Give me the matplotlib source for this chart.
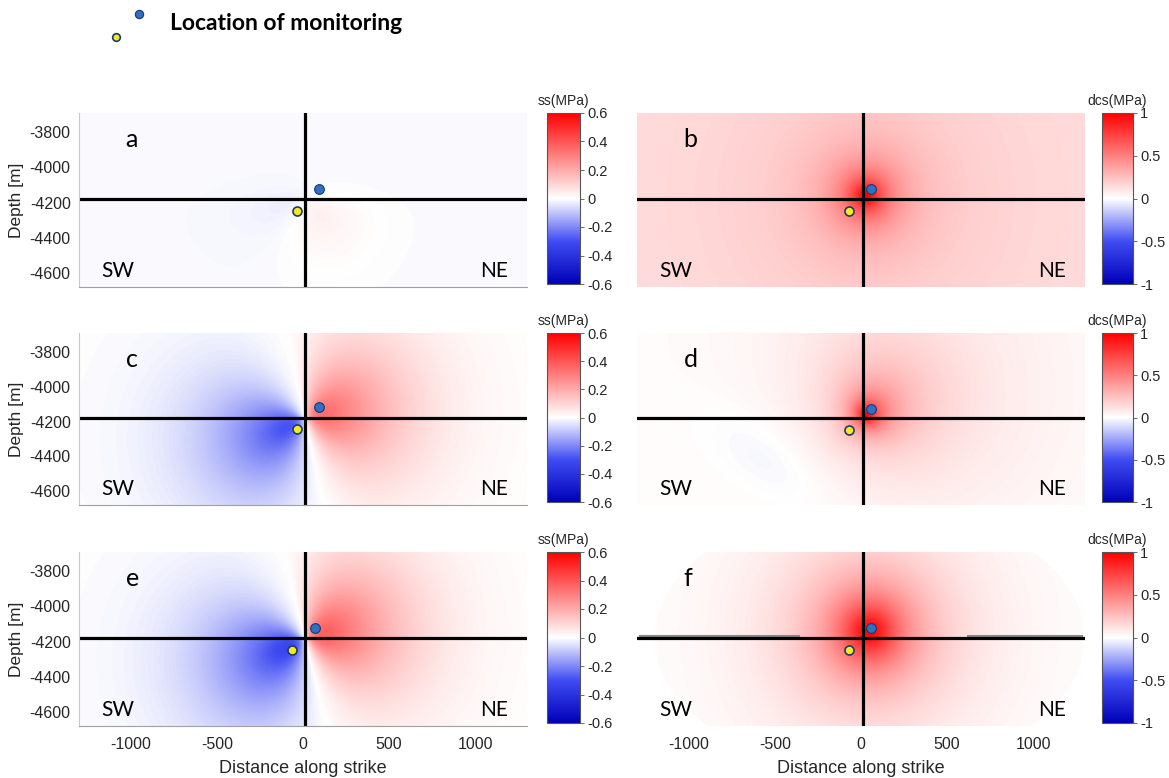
import matplotlib
matplotlib.use("Agg")
import matplotlib.pyplot as plt
import numpy as np
from matplotlib.colors import LinearSegmentedColormap

plt.rcParams['font.family'] = ['Liberation Sans', 'DejaVu Sans']

# ---- data ----
panel_letters = ["a", "b", "c", "d", "e", "f"]
cbar_labels = ["ss(MPa)", "dcs(MPa)"]
cbar_limits = [0.6, 1.0]
cbar_ticks_left = [-0.6, -0.4, -0.2, 0, 0.2, 0.4, 0.6]
cbar_ticks_right = [-1, -0.5, 0, 0.5, 1]
x_ticks = [-1000, -500, 0, 500, 1000]
y_ticks = [-4600, -4400, -4200, -4000, -3800]
x_range = [-1300, 1300]
y_range = [-4680, -3690]
fault_x = 10
fault_y = -4180

# monitoring points (x, depth) per panel
blue_x = [95, 60, 95, 60, 70, 60]
blue_y = [-4125, -4125, -4115, -4130, -4120, -4120]
yellow_x = [-35, -70, -35, -70, -65, -70]
yellow_y = [-4250, -4250, -4245, -4250, -4250, -4250]

peak_b, bg_b = 0.90, 0.12
peak_f = 1.0
dipole_amp = [0.07, 0.40, 0.44]      # panels a, c, e
dipole_angle = [-35, 12, 14]         # degrees
d_peak, d_lobe, d_neg = 0.75, 0.30, -0.05
bg_a = -0.008

cmap = LinearSegmentedColormap.from_list(
    "bwr_m", [(0.0, 0.0, 0.72), (0.25, 0.3, 0.95), (1, 1, 1),
              (1, 0.5, 0.5), (1, 0, 0)])
cmap.set_bad("white")

xg = np.linspace(x_range[0], x_range[1], 400)
yg = np.linspace(y_range[0], y_range[1], 200)
X, Y = np.meshgrid(xg, yg)


def dipole(amp, ang, L=520.0, cx=fault_x, cy=fault_y):
    dx, dy = X - cx, Y - cy
    r = np.hypot(dx, dy)
    th = np.arctan2(dy, dx)
    g = (1 - np.exp(-r / 40.0)) * np.exp(-(r / L) ** 1.5)
    v = amp * g * np.cos(th - np.deg2rad(ang))
    # negative lobe sits lower-left, weaker towards the upper-left
    w = 0.55 + 0.4 * np.cos(th + np.deg2rad(120))
    return np.where(v < 0, v * w, v)


def radial(peak, r0, p, cx, cy):
    r = np.hypot(X - cx, Y - cy)
    return peak / (1 + (r / r0) ** p)


fields = []
below = 1 / (1 + np.exp((Y - fault_y) / 60.0))
fields.append(bg_a + dipole(dipole_amp[0], dipole_angle[0], L=320) * below)
fields.append(bg_b + radial(peak_b, 120, 1.5, 30, -4160))
fields.append(dipole(dipole_amp[1], dipole_angle[1]))
th = np.arctan2(Y - fault_y, X - fault_x)
rr = np.hypot(X - fault_x, Y - fault_y)
u = (X + 520) * np.cos(np.deg2rad(-35)) + (Y + 4430) * np.sin(np.deg2rad(-35))
v = -(X + 520) * np.sin(np.deg2rad(-35)) + (Y + 4430) * np.cos(np.deg2rad(-35))
fd = (radial(d_peak, 90, 1.6, 20, -4170)
      + d_lobe * np.exp(-rr / 550) * ((1 + np.cos(th - np.deg2rad(40))) / 2) ** 1.5
      + d_neg * np.exp(-((u / 420) ** 2 + (v / 200) ** 2)))
fields.append(fd)
fields.append(dipole(dipole_amp[2], dipole_angle[2]))
rf = np.hypot(X - 50, Y + 4140)
ff = radial(peak_f, 210, 1.6, 50, -4140) * np.exp(-(rf / 1100) ** 2)
mask = ((X - 50) / 1250) ** 2 + ((Y - fault_y) / 760) ** 2 > 1
fields.append(np.ma.masked_where(mask, ff))

# ---- layout (pixels of a 1169x778 figure) ----
W, H = 1169, 778
fig = plt.figure(figsize=(W / 100, H / 100), dpi=100)
rows = [(113, 287), (333, 505), (552, 726)]
cols = [(79, 527), (637, 1085)]
cb_cols = [(547, 580), (1102, 1133)]
tick_col = "#262626"
lab_font = ["Lato", "DejaVu Sans"]

for i, letter in enumerate(panel_letters):
    r, c = i // 2, i % 2
    top, bot = rows[r]
    x0, x1 = cols[c]
    ax = fig.add_axes([x0 / W, 1 - bot / H, (x1 - x0) / W, (bot - top) / H])
    lim = cbar_limits[c]
    im = ax.imshow(fields[i], extent=[x_range[0], x_range[1], y_range[0], y_range[1]],
                   origin="lower", aspect="auto", cmap=cmap, vmin=-lim, vmax=lim,
                   interpolation="bilinear")
    ax.set_xlim(x_range)
    ax.set_ylim(y_range)
    if letter == "f":
        # doubled grey fault trace at both ends
        ax.plot([-1280, -360], [fault_y + 12, fault_y + 12], color="#888888", lw=1.5)
        ax.plot([620, 1280], [fault_y + 12, fault_y + 12], color="#888888", lw=1.5)
    ax.axhline(fault_y, color="black", lw=2.3)
    ax.axvline(fault_x, color="black", lw=2.3)
    ax.plot(blue_x[i], blue_y[i], "o", ms=7, mfc="#2f6fc4", mec="#1b3a6b", mew=0.8)
    ax.plot(yellow_x[i], yellow_y[i], "o", ms=6.5, mfc="#f5ea1e", mec="#1b3a6b", mew=1.2)
    ax.text(-1030, -3840, letter, fontsize=18, family=lab_font, va="center")
    ax.text(-1170, -4590, "SW", fontsize=15, family=lab_font, va="center")
    ax.text(1190, -4590, "NE", fontsize=15, family=lab_font, va="center", ha="right")

    for s in ["top", "right"]:
        ax.spines[s].set_visible(False)
    if c == 0:
        ax.spines["left"].set_color("#c8c8c8")
        ax.spines["bottom"].set_color("#a0a0a0")
        ax.set_yticks(y_ticks)
        ax.set_yticklabels([str(v) for v in y_ticks], fontsize=11.5, color=tick_col)
        ax.tick_params(axis="y", length=0, pad=6)
        ax.set_ylabel("Depth [m]", fontsize=12.5, color=tick_col, labelpad=4)
    else:
        ax.spines["left"].set_visible(False)
        ax.spines["bottom"].set_visible(False)
        ax.set_yticks([])
    if r == 2:
        ax.set_xticks(x_ticks)
        ax.set_xticklabels([str(v) for v in x_ticks], fontsize=11.5, color=tick_col)
        ax.tick_params(axis="x", length=0, pad=8)
        ax.set_xlabel("Distance along strike", fontsize=13, color=tick_col, labelpad=6)
    else:
        ax.set_xticks([])

    # colorbar
    cx0, cx1 = cb_cols[c]
    cb_top, cb_bot = top, bot - 3
    cax = fig.add_axes([cx0 / W, 1 - cb_bot / H, (cx1 - cx0) / W, (cb_bot - cb_top) / H])
    ticks = cbar_ticks_left if c == 0 else cbar_ticks_right
    cb = fig.colorbar(im, cax=cax, ticks=ticks)
    cb.ax.set_yticklabels([("%g" % t) for t in ticks], fontsize=10.5, color=tick_col)
    cb.ax.tick_params(length=3, width=0.6, color="#555555", pad=2)
    cb.outline.set_edgecolor("#555555")
    cb.outline.set_linewidth(0.8)
    cax.text(0.5, 1.03, cbar_labels[c], transform=cax.transAxes, ha="center",
             va="bottom", fontsize=10, color=tick_col)

# legend at top
ov = fig.add_axes([0, 0, 1, 1], facecolor="none")
ov.set_xlim(0, W)
ov.set_ylim(H, 0)
ov.axis("off")
ov.plot(139, 14, "o", ms=6, mfc="#2f6fc4", mec="#1b3a6b", mew=0.8)
ov.plot(116, 37, "o", ms=5.5, mfc="#f5ea1e", mec="#1b3a6b", mew=1.2)
ov.text(170, 23, "Location of monitoring", fontsize=16.5, fontweight="bold",
        family=lab_font, va="center")

fig.savefig("out.png", dpi=100)
